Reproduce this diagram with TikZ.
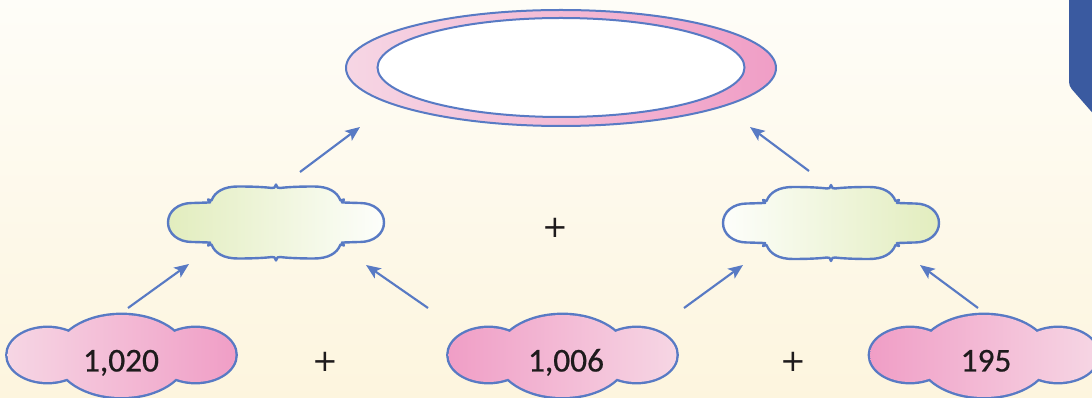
\documentclass[tikz,border=0pt]{standalone}
\usepackage{fontspec}
\setmainfont{Carlito}
\newfontfamily\plusfont{DejaVu Sans}
\usetikzlibrary{arrows.meta}
\definecolor{lineblue}{RGB}{88,122,196}
\definecolor{pinkD}{RGB}{240,158,198}
\definecolor{pinkL}{RGB}{246,214,228}
\definecolor{greenC}{RGB}{226,237,190}
\definecolor{whiteC}{RGB}{253,254,251}
\definecolor{tabblue}{RGB}{58,90,160}
\definecolor{bgtop}{RGB}{254,253,248}
\definecolor{bgbot}{RGB}{253,245,222}
\definecolor{ink}{RGB}{30,27,28}
\def\pinkcloudpath{(0,0) ellipse [x radius=65, y radius=41] (-74,-1) ellipse [x radius=40, y radius=27] (74,-1) ellipse [x radius=40, y radius=27]}
\def\greencloudpath{(-66,-20)
 .. controls (-72,-20) and (-78,-19.5) .. (-84,-19.5)
 .. controls (-98,-19.5) and (-108,-11) .. (-108,0)
 .. controls (-108,11) and (-98,19.5) .. (-84,19.5)
 .. controls (-78,19.5) and (-72,20) .. (-66,20)
 -- (-68,23) -- (-64.5,22)
 .. controls (-61,31) and (-52,36) .. (-38,36)
 .. controls (-24,36) and (-12,35.5) .. (-4,34.5)
 .. controls (-1.5,34.5) .. (0,38)
 .. controls (1.5,34.5) .. (4,34.5)
 .. controls (12,35.5) and (24,36) .. (38,36)
 .. controls (52,36) and (61,31) .. (64.5,22)
 -- (68,23) -- (66,20)
 .. controls (72,20) and (78,19.5) .. (84,19.5)
 .. controls (98,19.5) and (108,11) .. (108,0)
 .. controls (108,-11) and (98,-19.5) .. (84,-19.5)
 .. controls (78,-19.5) and (72,-20) .. (66,-20)
 -- (68,-23) -- (64.5,-22)
 .. controls (61,-31) and (52,-36) .. (38,-36)
 .. controls (24,-36) and (12,-35.5) .. (4,-34.5)
 .. controls (1.5,-34.5) .. (0,-38)
 .. controls (-1.5,-34.5) .. (-4,-34.5)
 .. controls (-12,-35.5) and (-24,-36) .. (-38,-36)
 .. controls (-52,-36) and (-61,-31) .. (-64.5,-22)
 -- (-68,-23) -- cycle}
\tikzset{
  cloudline/.style={draw=lineblue, line width=1.8pt, line join=round},
  arr/.style={draw=lineblue, line width=1.6pt, -{Stealth[length=11pt,width=9pt,inset=2.5pt]}},
  numtext/.style={text=ink, font=\fontsize{25}{28}\selectfont\addfontfeature{FakeBold=0.6}, anchor=base, inner sep=0pt},
  plustext/.style={text=ink, font=\plusfont\fontsize{23}{26}\selectfont, inner sep=0pt}
}
\begin{document}
\begin{tikzpicture}[x=0.75pt,y=-0.75pt]
\useasboundingbox (0,0) rectangle (1092,398);
\clip (0,0) rectangle (1092,398);
\shade[top color=bgtop, bottom color=bgbot] (0,0) rectangle (1092,398);
% blue tab
\fill[tabblue, rounded corners=3pt] (1069,-10) -- (1069,86) -- (1097,118) -- (1097,-10) -- cycle;
% top ring
\shadedraw[left color=pinkL, right color=pinkD, draw=lineblue, line width=1.5pt] (561,68) ellipse [x radius=215, y radius=58];
\filldraw[fill=white, draw=lineblue, line width=1.5pt] (561,67.5) ellipse [x radius=183.5, y radius=49.5];
\coordinate (top) at (561,68);
% green clouds
\begin{scope}[shift={(276,222.5)}]
  \shade[left color=greenC, right color=whiteC] \greencloudpath;
  \path[cloudline] \greencloudpath;
\end{scope}
\begin{scope}[shift={(831,223)}]
  \shade[left color=whiteC, right color=greenC] \greencloudpath;
  \path[cloudline] \greencloudpath;
\end{scope}
\coordinate (gl) at (276,222.5);
\coordinate (gr) at (831,223);
% pink clouds
\begin{scope}[shift={(121.5,356)}]
  \draw[draw=lineblue, line width=3.6pt] \pinkcloudpath;
  \shade[left color=pinkL, right color=pinkD] \pinkcloudpath;
\end{scope}
\begin{scope}[shift={(562.5,356)}]
  \draw[draw=lineblue, line width=3.6pt] \pinkcloudpath;
  \shade[left color=pinkD, right color=pinkL] \pinkcloudpath;
\end{scope}
\begin{scope}[shift={(984,356)}]
  \draw[draw=lineblue, line width=3.6pt] \pinkcloudpath;
  \shade[left color=pinkD, right color=pinkL] \pinkcloudpath;
\end{scope}
% numbers and plus signs
\node[numtext] (n1) at (121,371.5) {1,020};
\node[numtext] (n2) at (566,371.5) {1,006};
\node[numtext] (n3) at (986,371.5) {195};
\node[plustext] (p1) at (555.5,228) {+};
\node[plustext] (p2) at (325,362) {+};
\node[plustext] (p3) at (793,362) {+};
% arrow end points
\coordinate (a1s) at (300,172); \coordinate (a1e) at (360,127);
\coordinate (a2s) at (809,171); \coordinate (a2e) at (750,127);
\coordinate (a3s) at (128,308); \coordinate (a3e) at (189,264);
\coordinate (a4s) at (428,308); \coordinate (a4e) at (366,265);
\coordinate (a5s) at (684,308); \coordinate (a5e) at (743,265);
\coordinate (a6s) at (978,308); \coordinate (a6e) at (920,265);
\draw[arr] (a1s) -- (a1e);
\draw[arr] (a2s) -- (a2e);
\draw[arr] (a3s) -- (a3e);
\draw[arr] (a4s) -- (a4e);
\draw[arr] (a5s) -- (a5e);
\draw[arr] (a6s) -- (a6e);
\end{tikzpicture}
\end{document}
